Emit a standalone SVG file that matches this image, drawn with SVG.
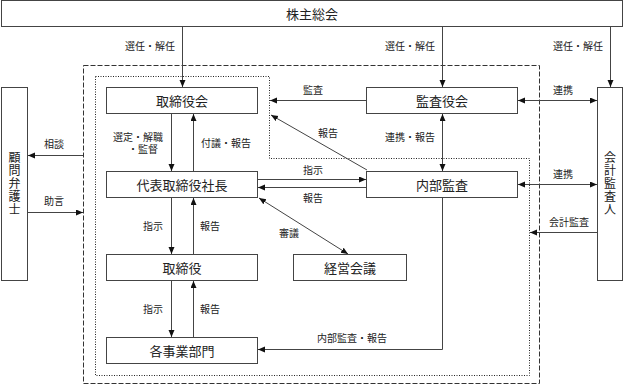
<svg xmlns="http://www.w3.org/2000/svg" width="624" height="386" viewBox="0 0 624 386">
<style>
.box{fill:#fff;stroke:#444;stroke-width:1}
.t{font-family:"Liberation Serif","Noto Sans CJK JP",serif;font-size:13px;fill:#222;text-anchor:middle;dominant-baseline:central}
.v{font-family:"Liberation Serif","Noto Sans CJK JP",serif;font-size:12px;fill:#222;text-anchor:middle;dominant-baseline:central}
.s{font-family:"Liberation Serif","Noto Sans CJK JP",serif;font-size:10px;fill:#222;text-anchor:middle;dominant-baseline:central}
.ln{fill:none;stroke:#444;stroke-width:1}
.a{marker-end:url(#ah)}
.d{marker-start:url(#ah);marker-end:url(#ah)}
</style>
<defs>
<marker id="ah" markerUnits="userSpaceOnUse" markerWidth="8" markerHeight="7" refX="7" refY="3" orient="auto-start-reverse">
<path d="M0,0 L7,3 L0,6 z" fill="#111"/>
</marker>
</defs>
<rect width="624" height="386" fill="#fff"/>
<g id="frames">
<rect x="83.5" y="65.5" width="456" height="318" fill="none" stroke="#333" stroke-dasharray="5,2"/>
<path d="M95.5,76.5 H269.5 V158.5 H529.5 V375.5 H95.5 Z" fill="none" stroke="#222" stroke-dasharray="1,1.5"/>
</g>
<g id="n-shareholders"><rect class="box" x="1.5" y="0.5" width="621" height="26"/><text class="t" x="312" y="14">株主総会</text></g>
<g id="n-board"><rect class="box" x="106.5" y="87.5" width="151" height="26"/><text class="t" x="182" y="101">取締役会</text></g>
<g id="n-president"><rect class="box" x="106.5" y="171.5" width="151" height="26"/><text class="t" x="182" y="185">代表取締役社長</text></g>
<g id="n-directors"><rect class="box" x="106.5" y="254.5" width="151" height="26"/><text class="t" x="182" y="268">取締役</text></g>
<g id="n-divisions"><rect class="box" x="106.5" y="337.5" width="151" height="26"/><text class="t" x="182" y="351">各事業部門</text></g>
<g id="n-auditboard"><rect class="box" x="366.5" y="87.5" width="151" height="26"/><text class="t" x="442" y="101">監査役会</text></g>
<g id="n-internal"><rect class="box" x="366.5" y="171.5" width="151" height="26"/><text class="t" x="442" y="185">内部監査</text></g>
<g id="n-mgmt"><rect class="box" x="293.5" y="254.5" width="113" height="26"/><text class="t" x="350" y="268">経営会議</text></g>
<g id="n-lawyer"><rect class="box" x="1.5" y="87.5" width="26" height="193"/>
<text class="v" x="14.5" y="158">顧</text><text class="v" x="14.5" y="171">問</text><text class="v" x="14.5" y="184">弁</text><text class="v" x="14.5" y="197">護</text><text class="v" x="14.5" y="210">士</text></g>
<g id="n-accountant"><rect class="box" x="597.5" y="87.5" width="25" height="193"/>
<text class="v" x="610" y="158">会</text><text class="v" x="610" y="171">計</text><text class="v" x="610" y="184">監</text><text class="v" x="610" y="197">査</text><text class="v" x="610" y="210">人</text></g>
<g id="connectors">
<line class="ln a" x1="182.5" y1="27" x2="182.5" y2="87"/>
<line class="ln a" x1="442.5" y1="27" x2="442.5" y2="87"/>
<line class="ln a" x1="610.5" y1="27" x2="610.5" y2="87"/>
<line class="ln a" x1="171.5" y1="114" x2="171.5" y2="171"/>
<line class="ln a" x1="193.5" y1="171" x2="193.5" y2="114"/>
<line class="ln a" x1="366" y1="100.5" x2="270" y2="100.5"/>
<line class="ln a" x1="367" y1="170" x2="271" y2="115"/>
<line class="ln a" x1="258" y1="179.5" x2="366" y2="179.5"/>
<line class="ln a" x1="366" y1="187.5" x2="258" y2="187.5"/>
<line class="ln d" x1="442.5" y1="114" x2="442.5" y2="171"/>
<line class="ln d" x1="518" y1="100.5" x2="597" y2="100.5"/>
<line class="ln d" x1="518" y1="184.5" x2="597" y2="184.5"/>
<line class="ln a" x1="597" y1="232.5" x2="530" y2="232.5"/>
<line class="ln d" x1="259" y1="198" x2="348" y2="254"/>
<line class="ln a" x1="171.5" y1="198" x2="171.5" y2="254"/>
<line class="ln a" x1="193.5" y1="254" x2="193.5" y2="198"/>
<line class="ln a" x1="171.5" y1="281" x2="171.5" y2="337"/>
<line class="ln a" x1="193.5" y1="337" x2="193.5" y2="281"/>
<path class="ln a" d="M442.5,198 V349.5 H258"/>
<line class="ln a" x1="83" y1="155.5" x2="28" y2="155.5"/>
<line class="ln a" x1="28" y1="212.5" x2="83" y2="212.5"/>
</g>
<g id="labels">
<text class="s" x="150" y="46">選任・解任</text>
<text class="s" x="410" y="46">選任・解任</text>
<text class="s" x="578" y="46">選任・解任</text>
<text class="s" x="138" y="137">選定・解職</text>
<text class="s" x="143" y="149">・監督</text>
<text class="s" x="226" y="143">付議・報告</text>
<text class="s" x="313" y="90">監査</text>
<text class="s" x="328" y="133">報告</text>
<text class="s" x="410" y="137">連携・報告</text>
<text class="s" x="563" y="90">連携</text>
<text class="s" x="563" y="174">連携</text>
<text class="s" x="313" y="170">指示</text>
<text class="s" x="313" y="198">報告</text>
<text class="s" x="569" y="222">会計監査</text>
<text class="s" x="289" y="233">審議</text>
<text class="s" x="153" y="226">指示</text>
<text class="s" x="210" y="226">報告</text>
<text class="s" x="153" y="309">指示</text>
<text class="s" x="210" y="309">報告</text>
<text class="s" x="352" y="338">内部監査・報告</text>
<text class="s" x="54" y="144">相談</text>
<text class="s" x="54" y="201">助言</text>
</g>
</svg>
